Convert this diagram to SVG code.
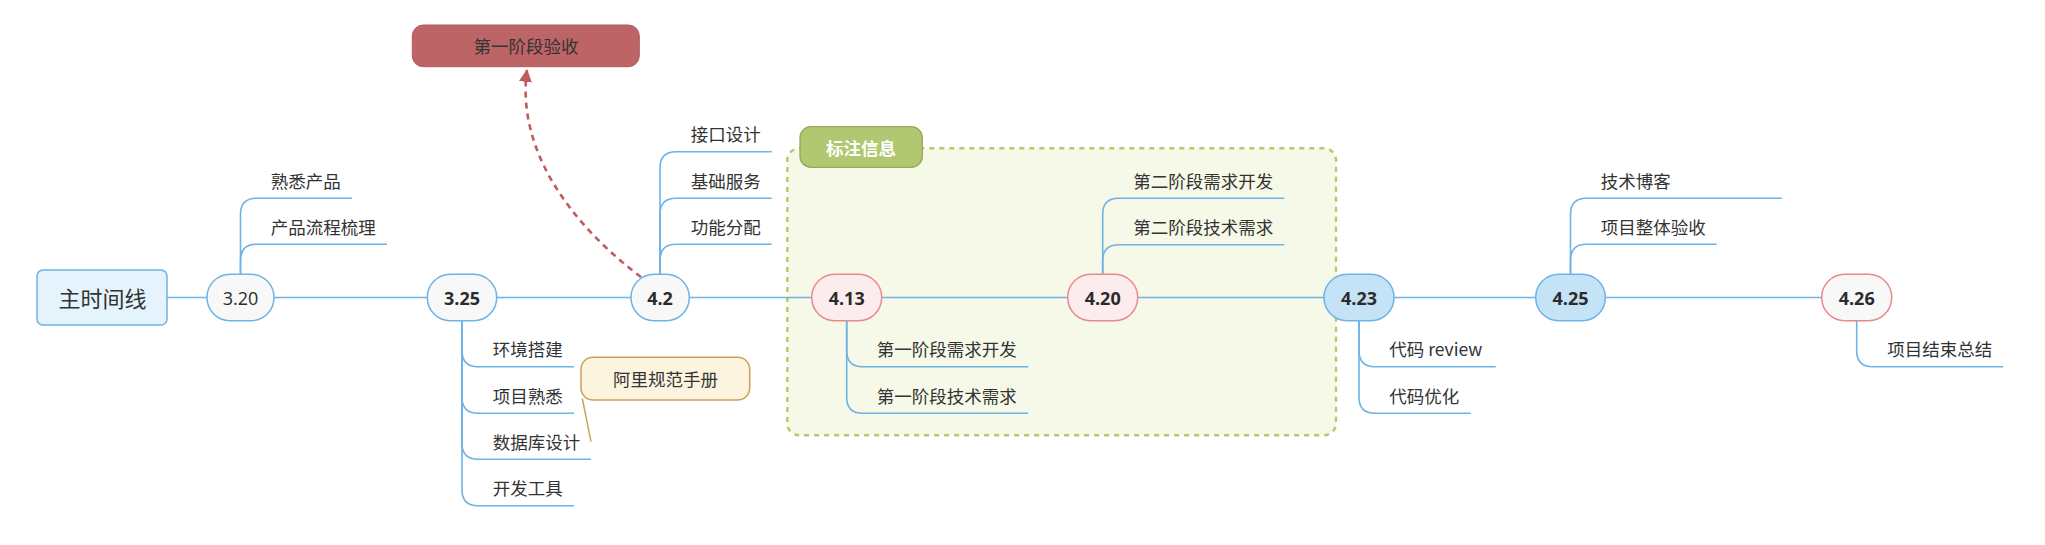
<svg xmlns="http://www.w3.org/2000/svg" width="2045" height="545" viewBox="0 0 2045 545">
<defs>
<style>
.br{fill:none;stroke:#6db3e5;stroke-width:1.6}
.t{font-family:"Noto Sans CJK SC","Microsoft YaHei",sans-serif;font-size:17.5px;fill:#333}
.nt{font-family:"Open Sans","Noto Sans CJK SC",sans-serif;font-size:18px;fill:#2b2b2b;text-anchor:middle}
.b{font-weight:bold}
.blue{fill:#f8f8f8;stroke:#6db3e5;stroke-width:1.5}
.pink{fill:#fdeced;stroke:#e68a8c;stroke-width:1.5}
.sky{fill:#c5e3f6;stroke:#6db3e5;stroke-width:1.5}
.end{fill:#f8f8f8;stroke:#e68a8c;stroke-width:1.5}
</style>
<marker id="ah" viewBox="0 0 12 12" refX="11" refY="6" markerWidth="13" markerHeight="13" markerUnits="userSpaceOnUse" orient="auto">
<path d="M0,0 L12,6 L0,12 z" fill="#c05b5e"/>
</marker>
</defs>
<rect width="2045" height="545" fill="#ffffff"/>

<g id="annotation-boundary">
<rect x="787.3" y="148.3" width="548.7" height="287" rx="12" fill="#f6f9e7" stroke="#b3ca6a" stroke-width="2.4" stroke-dasharray="5 5"/>
</g>

<g id="connectors">
<line class="br" x1="167" y1="297.5" x2="1822" y2="297.5"/>
<path class="br" d="M240.5,274 V214.3 Q240.5,198.3 256.5,198.3 H352"/>
<path class="br" d="M240.5,274 V260.3 Q240.5,244.3 256.5,244.3 H387"/>
<path class="br" d="M660,274 V167.7 Q660,151.7 676,151.7 H771.7"/>
<path class="br" d="M660,274 V214.3 Q660,198.3 676,198.3 H771.7"/>
<path class="br" d="M660,274 V260.3 Q660,244.3 676,244.3 H771.7"/>
<path class="br" d="M462,321 V350.7 Q462,366.7 478,366.7 H574"/>
<path class="br" d="M462,321 V397.3 Q462,413.3 478,413.3 H574"/>
<path class="br" d="M462,321 V443.3 Q462,459.3 478,459.3 H591"/>
<path class="br" d="M462,321 V489.7 Q462,505.7 478,505.7 H574"/>
<path class="br" d="M846.7,321 V350.7 Q846.7,366.7 862.7,366.7 H1028.3"/>
<path class="br" d="M846.7,321 V397.3 Q846.7,413.3 862.7,413.3 H1028.3"/>
<path class="br" d="M1102.7,274 V214.3 Q1102.7,198.3 1118.7,198.3 H1284.3"/>
<path class="br" d="M1102.7,274 V260.7 Q1102.7,244.7 1118.7,244.7 H1284.3"/>
<path class="br" d="M1359,321 V350.7 Q1359,366.7 1375,366.7 H1495.7"/>
<path class="br" d="M1359,321 V397.3 Q1359,413.3 1375,413.3 H1470.7"/>
<path class="br" d="M1570.5,274 V214.3 Q1570.5,198.3 1586.5,198.3 H1781.7"/>
<path class="br" d="M1570.5,274 V260.3 Q1570.5,244.3 1586.5,244.3 H1716.7"/>
<path class="br" d="M1856.7,321 V350.7 Q1856.7,366.7 1872.7,366.7 H2003.3"/>
<line x1="582.3" y1="398.3" x2="591" y2="441.7" stroke="#c8a25a" stroke-width="1.5"/>
<path d="M641,277 C585,235 515,160 527,70" fill="none" stroke="#c05b5e" stroke-width="2.6" stroke-dasharray="6 5" marker-end="url(#ah)"/>
</g>

<g id="annotation-label">
<rect x="800" y="126.7" width="122.3" height="40.6" rx="11" fill="#b1c772" stroke="#93ab54" stroke-width="1.3"/>
<text x="861" y="154.5" class="t b" style="fill:#ffffff" text-anchor="middle">标注信息</text>
</g>

<g id="root">
<rect x="37" y="270" width="130" height="55" rx="6" fill="#e4f3fc" stroke="#6db3e5" stroke-width="1.5"/>
<text x="102.5" y="307" class="t" style="font-size:22px" text-anchor="middle">主时间线</text>
</g>

<g id="n320"><rect class="blue" x="207" y="274.3" width="67" height="46.4" rx="23"/><text class="nt" x="240.5" y="304.5">3.20</text></g>
<g id="n325"><rect class="blue" x="427.3" y="274.3" width="69.4" height="46.4" rx="23"/><text class="nt b" x="462" y="304.5">3.25</text></g>
<g id="n42"><rect class="blue" x="631" y="274.3" width="58.3" height="46.4" rx="23"/><text class="nt b" x="660" y="304.5">4.2</text></g>
<g id="n413"><rect class="pink" x="811.7" y="274.3" width="70" height="46.4" rx="23"/><text class="nt b" x="846.7" y="304.5">4.13</text></g>
<g id="n420"><rect class="pink" x="1067.7" y="274.3" width="70" height="46.4" rx="23"/><text class="nt b" x="1102.7" y="304.5">4.20</text></g>
<g id="n423"><rect class="sky" x="1324" y="274.3" width="70" height="46.4" rx="23"/><text class="nt b" x="1359" y="304.5">4.23</text></g>
<g id="n425"><rect class="sky" x="1535.7" y="274.3" width="69.6" height="46.4" rx="23"/><text class="nt b" x="1570.5" y="304.5">4.25</text></g>
<g id="n426"><rect class="end" x="1821.7" y="274.3" width="70" height="46.4" rx="23"/><text class="nt b" x="1856.7" y="304.5">4.26</text></g>

<g id="c320"><text class="t" x="270.7" y="188">熟悉产品</text><text class="t" x="270.7" y="234">产品流程梳理</text></g>
<g id="c42"><text class="t" x="690.7" y="141.2">接口设计</text><text class="t" x="690.7" y="188">基础服务</text><text class="t" x="690.7" y="234">功能分配</text></g>
<g id="c325"><text class="t" x="492.7" y="356.2">环境搭建</text><text class="t" x="492.7" y="402.8">项目熟悉</text><text class="t" x="492.7" y="448.8">数据库设计</text><text class="t" x="492.7" y="495.2">开发工具</text></g>
<g id="c413"><text class="t" x="876.7" y="356.2">第一阶段需求开发</text><text class="t" x="876.7" y="402.8">第一阶段技术需求</text></g>
<g id="c420"><text class="t" x="1133.3" y="188">第二阶段需求开发</text><text class="t" x="1133.3" y="234.2">第二阶段技术需求</text></g>
<g id="c423"><text class="t" x="1389.3" y="356.2">代码 review</text><text class="t" x="1389.3" y="402.8">代码优化</text></g>
<g id="c425"><text class="t" x="1600.7" y="188">技术博客</text><text class="t" x="1600.7" y="234">项目整体验收</text></g>
<g id="c426"><text class="t" x="1887.3" y="356.2">项目结束总结</text></g>

<g id="callout-ali">
<rect x="581" y="357.3" width="168.7" height="42.7" rx="12" fill="#fcf4df" stroke="#c8a25a" stroke-width="1.5"/>
<text class="t" x="665.4" y="386" text-anchor="middle">阿里规范手册</text>
</g>

<g id="milestone-1">
<rect x="412.3" y="25" width="227" height="41.7" rx="11" fill="#bd6467" stroke="#b05a5d" stroke-width="1"/>
<text class="t" x="526" y="52.5" text-anchor="middle">第一阶段验收</text>
</g>
</svg>
